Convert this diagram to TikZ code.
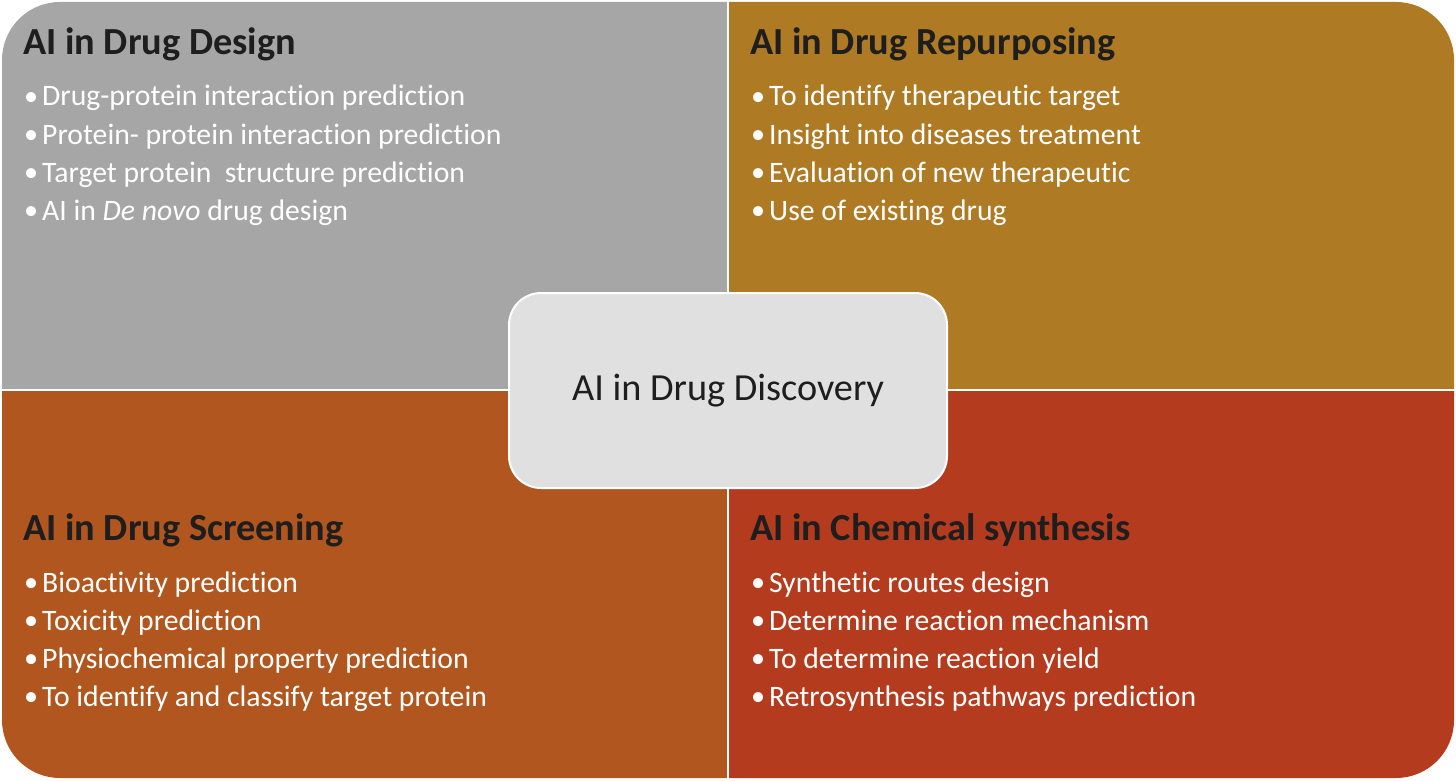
\documentclass[tikz,border=0pt]{standalone}
\usepackage{fontspec}
\setmainfont[Ligatures={NoCommon}]{Carlito}
\definecolor{qgray}{HTML}{A6A6A6}
\definecolor{qgold}{HTML}{AE7A24}
\definecolor{qorange}{HTML}{B0561E}
\definecolor{qred}{HTML}{B53B1E}
\definecolor{cfill}{HTML}{E0E0E0}
\definecolor{dtext}{HTML}{1E1E1E}
\begin{document}
\begin{tikzpicture}[x=1pt,y=-1pt,
  qtitle/.style={anchor=base west,inner sep=0pt,text=dtext,font=\fontsize{38.3}{42}\selectfont\bfseries},
  qitem/.style={anchor=base west,inner sep=0pt,text=white,font=\fontsize{29.7}{36}\selectfont},
  center/.style={draw=white,line width=2pt,fill=cfill,rounded corners=32pt,inner sep=0pt,
    minimum width=438pt,minimum height=195pt,text=dtext,font=\fontsize{38.3}{44}\selectfont}]
\useasboundingbox (0,0) rectangle (1456,781);
\begin{scope}
  \clip[rounded corners=58pt] (2,2) rectangle (1454,778);
  \fill[qgray] (0,0) rectangle (728,390);
  \fill[qgold] (728,0) rectangle (1456,390);
  \fill[qorange] (0,390) rectangle (728,781);
  \fill[qred] (728,390) rectangle (1456,781);
\end{scope}
\draw[white,line width=2.5pt] (728,0) -- (728,781);
\draw[white,line width=2.5pt] (0,390) -- (1456,390);
\newcommand{\bul}[1]{\makebox[17pt][l]{\makebox[12pt][c]{\raisebox{0.8pt}{\scalebox{0.95}{•}}}}#1}
% top left
\node[qtitle] (t1) at (23,55) {AI in Drug Design};
\node[qitem] (a1) at (25,106) {\bul{Drug-protein interaction prediction}};
\node[qitem] (a2) at (25,144) {\bul{Protein- protein interaction prediction}};
\node[qitem] (a3) at (25,182) {\bul{Target protein\ \ structure prediction}};
\node[qitem] (a4) at (25,220) {\bul{AI in \textit{De novo} drug design}};
% top right
\node[qtitle] (t2) at (750,55) {AI in Drug Repurposing};
\node[qitem] (b1) at (752,106) {\bul{To identify therapeutic target}};
\node[qitem] (b2) at (752,144) {\bul{Insight into diseases treatment}};
\node[qitem] (b3) at (752,182) {\bul{Evaluation of new therapeutic}};
\node[qitem] (b4) at (752,220) {\bul{Use of existing drug}};
% bottom left
\node[qtitle] (t3) at (23,540) {AI in Drug Screening};
\node[qitem] (c1) at (25,592) {\bul{Bioactivity prediction}};
\node[qitem] (c2) at (25,630) {\bul{Toxicity prediction}};
\node[qitem] (c3) at (25,668) {\bul{Physiochemical property prediction}};
\node[qitem] (c4) at (25,706) {\bul{To identify and classify target protein}};
% bottom right
\node[qtitle] (t4) at (750,540) {AI in Chemical synthesis};
\node[qitem] (e1) at (752,592) {\bul{Synthetic routes design}};
\node[qitem] (e2) at (752,630) {\bul{Determine reaction mechanism}};
\node[qitem] (e3) at (752,668) {\bul{To determine reaction yield}};
\node[qitem] (e4) at (752,706) {\bul{Retrosynthesis pathways prediction}};
% center
\node[center] (hub) at (728,390.5) {AI in Drug Discovery};
\end{tikzpicture}
\end{document}
